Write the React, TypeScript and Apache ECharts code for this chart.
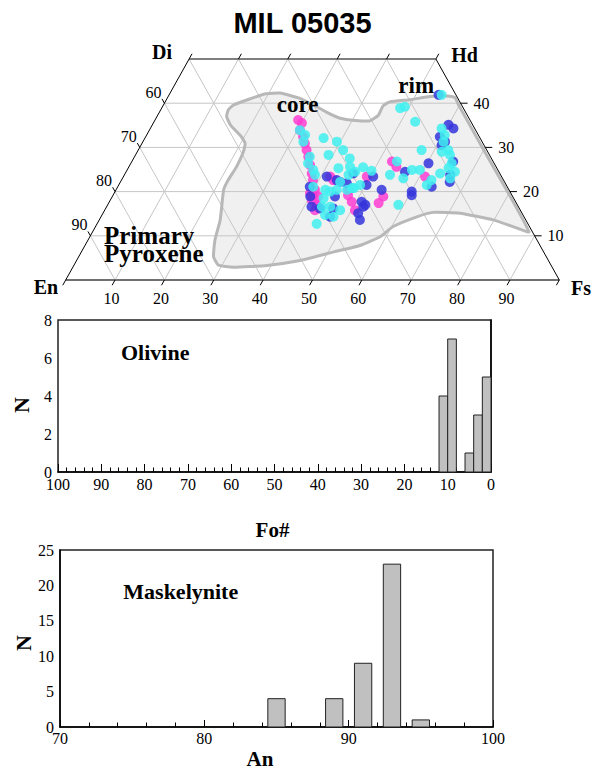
import React, { useEffect, useRef } from "react";
import * as echarts from "echarts";

// ---------- Pyroxene quadrilateral data: [Fs, Wo] (mol%) ----------
const magentaPts: number[][] = [
  [29.0, 36.2], [30.1, 35.5], [30.5, 33.9], [31.9, 32.4], [33.0, 30.9], [34.1, 29.4],
  [35.2, 27.9], [36.5, 26.0], [37.8, 24.1], [38.8, 22.6], [40.3, 20.4], [40.8, 18.1],
  [42.4, 17.0], [42.6, 15.8], [41.9, 23.4], [42.9, 22.6], [47.1, 20.4], [49.1, 17.7],
  [50.7, 15.8], [49.3, 23.4], [54.7, 17.4], [54.9, 18.9], [52.7, 26.8], [54.2, 25.6],
  [61.1, 23.4], [40.5, 19.2], [47.6, 19.2], [39.7, 19.6], [41.7, 18.9], [42.6, 16.6],
];
const bluePts: number[][] = [
  [41.2, 23.4], [43.6, 22.6], [46.2, 24.1], [46.0, 21.9], [50.2, 21.5], [50.6, 23.4],
  [51.1, 17.7], [52.0, 16.6], [51.7, 15.1], [52.8, 13.6], [53.8, 20.4], [40.1, 18.9],
  [41.5, 16.6], [43.4, 16.2], [45.1, 18.9], [46.1, 16.2], [38.9, 21.1], [46.4, 14.3],
  [54.6, 41.9], [60.0, 35.1], [61.4, 34.3], [59.6, 32.4], [60.9, 30.5], [65.1, 26.8],
  [66.0, 23.8], [66.7, 22.2], [60.3, 26.4], [56.5, 24.5], [60.1, 20.0], [60.5, 19.2],
  [63.6, 21.1], [61.2, 31.3], [44.5, 22.2], [52.2, 17.0],
];
const cyanPts: number[][] = [
  [30.5, 33.9], [32.1, 32.8], [32.5, 31.3], [36.2, 32.1], [39.3, 31.3], [41.5, 29.4],
  [39.1, 28.3], [43.8, 27.5], [44.8, 25.6], [42.6, 25.3], [47.5, 25.5], [49.6, 24.7],
  [45.4, 23.8], [44.5, 22.2], [48.0, 20.8], [46.8, 20.4], [44.7, 20.4], [42.4, 20.4],
  [39.6, 21.1], [35.5, 27.9], [35.9, 26.4], [37.7, 24.9], [38.6, 23.8], [43.0, 18.5],
  [43.6, 16.6], [45.3, 16.6], [47.7, 15.8], [45.2, 14.7], [47.1, 14.3], [44.5, 12.7],
  [53.8, 23.8], [58.9, 17.0], [48.3, 38.9], [49.1, 39.2], [52.9, 35.8], [55.2, 41.9],
  [59.0, 34.3], [60.4, 32.8], [60.9, 31.3], [61.7, 29.0], [62.8, 29.4], [63.7, 28.3],
  [65.0, 26.4], [64.9, 25.3], [66.6, 24.5], [66.4, 23.0], [62.8, 22.6], [62.4, 21.5],
  [63.8, 24.1], [57.4, 29.4], [59.3, 24.9], [57.7, 24.9], [56.9, 23.0], [53.7, 26.8],
  [46.4, 24.5], [48.9, 21.5], [43.6, 20.0], [47.6, 20.8],
];
// outline of the shaded pyroxene field, [Fs, Wo]
const fieldOutline: number[][] = [
  [13.7, 38.5], [14.2, 39.6], [16.9, 41.0], [19.3, 42.1], [22.3, 42.3], [26.9, 41.1],
  [30.4, 39.6], [33.8, 38.0], [37.3, 36.6], [40.6, 36.1], [43.6, 36.0], [44.7, 37.3],
  [44.6, 39.4], [45.5, 40.3], [49.3, 40.8], [53.1, 41.5], [56.0, 41.7], [58.2, 41.3],
  [59.8, 39.6], [69.6, 29.8], [79.5, 20.0], [88.4, 10.9], [86.0, 11.6], [79.8, 13.6],
  [72.3, 15.1], [66.8, 15.3], [64.0, 14.3], [60.3, 12.1], [58.8, 9.8], [55.7, 7.8],
  [51.0, 6.3], [45.3, 4.4], [39.1, 3.3], [32.5, 2.9], [29.2, 3.4], [27.3, 5.3],
  [25.7, 9.1], [24.5, 13.6], [21.8, 20.4], [21.6, 22.6], [21.8, 25.6], [21.5, 29.0],
  [20.9, 30.9], [19.4, 32.4], [15.8, 35.1], [14.1, 37.0],
];
const fsTicks = [10, 20, 30, 40, 50, 60, 70, 80, 90];
const bottomTicks = [0, 10, 20, 30, 40, 50, 60, 70, 80, 90, 100];
const topTicks = [0, 10, 20, 30, 40, 50];
const woTicks = [10, 20, 30, 40];

// ---------- Olivine histogram ----------
const olivineBinStart = [10, 8, 4, 2, 0];
const olivineCounts = [4, 7, 1, 3, 5];
const olivineBinWidth = 2;

// ---------- Maskelynite histogram ----------
const maskCenters = [85, 89, 91, 93, 95];
const maskCounts = [4, 4, 9, 23, 1];
const maskBarWidth = 1.2;

const SERIF = "'Liberation Serif', 'Times New Roman', serif";
const SANS = "'Liberation Sans', Arial, sans-serif";

const toXY = (fs: number, wo: number) => [fs + wo / 2, wo];

function buildOption(): any {
  const gridSegs: number[][] = [
    ...woTicks.map((w) => [0, w, 100 - w, w]),
    ...fsTicks.map((f) => [f, 0, f, Math.min(50, 100 - f)]),
    ...fsTicks.map((e) => {
      const we = Math.min(50, 100 - e);
      return [100 - e, 0, 100 - e - we, we];
    }),
  ];
  const edges: number[][] = [
    [0, 0, 100, 0],
    [0, 50, 50, 50],
    [0, 0, 0, 50],
    [100, 0, 50, 50],
  ];
  const edgeStyles = [
    { stroke: "#707070", lineWidth: 2 },
    { stroke: "#555", lineWidth: 1.5 },
    { stroke: "#000", lineWidth: 1 },
    { stroke: "#000", lineWidth: 1 },
  ];

  const segSeries = (segs: number[][], styleFn: (i: number) => any, z: number) => ({
    type: "custom",
    coordinateSystem: "cartesian2d",
    xAxisIndex: 0,
    yAxisIndex: 0,
    silent: true,
    z,
    data: segs,
    renderItem: (params: any, api: any) => {
      const s = segs[params.dataIndex];
      const a = api.coord(toXY(s[0], s[1]));
      const b = api.coord(toXY(s[2], s[3]));
      return {
        type: "line",
        shape: { x1: a[0], y1: a[1], x2: b[0], y2: b[1] },
        style: styleFn(params.dataIndex),
      };
    },
  });

  const unitDir = (api: any, p0: number[], p1: number[]) => {
    const a = api.coord(toXY(p0[0], p0[1]));
    const b = api.coord(toXY(p1[0], p1[1]));
    const dx = b[0] - a[0];
    const dy = b[1] - a[1];
    const L = Math.hypot(dx, dy) || 1;
    return [dx / L, dy / L];
  };

  const labelStyle = (text: string, align: string) => ({
    text,
    textAlign: align,
    textVerticalAlign: "middle",
    verticalAlign: "middle",
    fontSize: 16,
    fontFamily: SERIF,
    fill: "#000",
  });

  const tickSeries = (
    vals: number[],
    point: (v: number) => number[],
    dir: (api: any, v: number) => number[],
    len: number,
    label: ((v: number) => string) | null,
    labelPos: (p: number[]) => number[],
    align: string
  ) => ({
    type: "custom",
    coordinateSystem: "cartesian2d",
    xAxisIndex: 0,
    yAxisIndex: 0,
    silent: true,
    z: 4,
    data: vals.map((v) => toXY(point(v)[0], point(v)[1])),
    renderItem: (params: any, api: any) => {
      const v = vals[params.dataIndex];
      const pt = point(v);
      const p = api.coord(toXY(pt[0], pt[1]));
      const d = dir(api, v);
      const children: any[] = [
        {
          type: "line",
          shape: { x1: p[0], y1: p[1], x2: p[0] + d[0] * len, y2: p[1] + d[1] * len },
          style: { stroke: "#000", lineWidth: 1 },
        },
      ];
      if (label) {
        const txt = label(v);
        if (txt) {
          const lp = labelPos(p);
          children.push({ type: "text", x: lp[0], y: lp[1], style: labelStyle(txt, align) });
        }
      }
      return { type: "group", children };
    },
  });

  const polySeries = (fill: string, stroke: string, lw: number, z: number) => ({
    type: "custom",
    coordinateSystem: "cartesian2d",
    xAxisIndex: 0,
    yAxisIndex: 0,
    silent: true,
    z,
    data: [toXY(fieldOutline[0][0], fieldOutline[0][1])],
    renderItem: (_p: any, api: any) => ({
      type: "polygon",
      shape: {
        points: fieldOutline.map(([fs, wo]) => api.coord(toXY(fs, wo))),
        smooth: 0.15,
      },
      style: { fill, stroke, lineWidth: lw },
    }),
  });

  const scatter = (pts: number[][], color: string, z: number) => ({
    type: "scatter",
    xAxisIndex: 0,
    yAxisIndex: 0,
    symbol: "circle",
    symbolSize: 10,
    z,
    data: pts.map(([fs, wo]) => toXY(fs, wo)),
    itemStyle: { color, opacity: 0.85 },
    silent: true,
  });

  const histBars = (idx: number, starts: number[], width: number, counts: number[]) => ({
    type: "custom",
    coordinateSystem: "cartesian2d",
    xAxisIndex: idx,
    yAxisIndex: idx,
    silent: true,
    z: 3,
    data: starts.map((s, i) => [s, counts[i]]),
    renderItem: (params: any, api: any) => {
      const s = starts[params.dataIndex];
      const c = counts[params.dataIndex];
      const a = api.coord([s, c]);
      const b = api.coord([s + width, 0]);
      return {
        type: "rect",
        shape: {
          x: Math.min(a[0], b[0]),
          y: Math.min(a[1], b[1]),
          width: Math.abs(b[0] - a[0]),
          height: Math.abs(b[1] - a[1]),
        },
        style: { fill: "#c0c0c0", stroke: "#222", lineWidth: 1 },
      };
    },
  });

  const axisLabel = (margin: number) => ({
    color: "#000",
    fontSize: 16,
    fontFamily: SERIF,
    margin,
  });

  const fsDir = (api: any, f: number) => unitDir(api, [f, 0], [f, 10]);
  // direction of a constant-En line, going up toward the left edge
  const enDir = (api: any) => unitDir(api, [10, 0], [0, 10]);

  const boldText = (
    text: string,
    x: number,
    y: number,
    size: number,
    align = "center",
    rot = 0,
    lineHeight?: number
  ) => ({
    type: "text",
    x,
    y,
    z: 100,
    rotation: rot,
    silent: true,
    style: {
      text,
      textAlign: align,
      textVerticalAlign: "middle",
      verticalAlign: "middle",
      fontSize: size,
      fontWeight: "bold",
      fontFamily: SERIF,
      fill: "#000",
      ...(lineHeight ? { lineHeight } : {}),
    },
  });

  return {
    animation: false,
    backgroundColor: "#fff",
    grid: [
      { left: 65.7, top: 59, width: 493.6, height: 221, show: false },
      {
        left: 58, top: 320, width: 433, height: 152, show: true,
        borderColor: "#222", borderWidth: 1.5, backgroundColor: "transparent",
      },
      {
        left: 60, top: 550, width: 433, height: 177, show: true,
        borderColor: "#222", borderWidth: 1.5, backgroundColor: "transparent",
      },
    ],
    xAxis: [
      { gridIndex: 0, type: "value", min: 0, max: 100, show: false },
      {
        gridIndex: 1, type: "value", min: 0, max: 100, interval: 10, inverse: true,
        axisLine: { lineStyle: { color: "#000", width: 1.5 } },
        axisTick: { inside: true, length: 8, lineStyle: { color: "#000" } },
        minorTick: { show: true, splitNumber: 5, length: 4.5, lineStyle: { color: "#000" } },
        splitLine: { show: false },
        axisLabel: axisLabel(4),
      },
      {
        gridIndex: 2, type: "value", min: 70, max: 100, interval: 10,
        axisLine: { lineStyle: { color: "#000", width: 1.5 } },
        axisTick: { inside: true, length: 7, lineStyle: { color: "#000" } },
        minorTick: { show: true, splitNumber: 5, length: 4.5, lineStyle: { color: "#000" } },
        splitLine: { show: false },
        axisLabel: axisLabel(3),
      },
    ],
    yAxis: [
      { gridIndex: 0, type: "value", min: 0, max: 50, show: false },
      {
        gridIndex: 1, type: "value", min: 0, max: 8, interval: 2,
        axisLine: { show: true, lineStyle: { color: "#000", width: 1.5 } },
        axisTick: { show: false },
        splitLine: { show: false },
        axisLabel: axisLabel(6),
      },
      {
        gridIndex: 2, type: "value", min: 0, max: 25, interval: 5,
        axisLine: { show: true, lineStyle: { color: "#000", width: 1.5 } },
        axisTick: { show: false },
        splitLine: { show: false },
        axisLabel: axisLabel(6),
      },
    ],
    series: [
      polySeries("#eff0ef", "none", 0, 1),
      segSeries(gridSegs, () => ({ stroke: "#c6c6c6", lineWidth: 1 }), 2),
      polySeries("none", "#b8b8b8", 3, 3),
      segSeries(edges, (i) => edgeStyles[i], 4),
      // bottom (Fs) ticks + labels
      tickSeries(
        bottomTicks,
        (f) => [f, 0],
        (api, f) => {
          const d = fsDir(api, f);
          return [-d[0], -d[1]];
        },
        6,
        (f) => (fsTicks.indexOf(f) >= 0 ? String(f) : ""),
        (p) => [p[0] - 3.5, p[1] + 18],
        "center"
      ),
      // top ticks
      tickSeries(topTicks, (f) => [f, 50], fsDir, 6, null, (p) => p, "center"),
      // left (En) ticks + labels
      tickSeries(
        woTicks,
        (w) => [0, w],
        (api) => enDir(api),
        5,
        (w) => String(100 - w),
        (p) => [p[0] - 11, p[1] - 11],
        "center"
      ),
      // right (Wo) ticks + labels
      tickSeries(
        woTicks,
        (w) => [100 - w, w],
        () => [1, 0],
        7,
        (w) => String(w),
        (p) => [p[0] + 13, p[1]],
        "left"
      ),
      scatter(magentaPts, "#ff3dd2", 5),
      scatter(bluePts, "#3535dc", 6),
      scatter(cyanPts, "#3ff0f0", 7),
      histBars(1, olivineBinStart, olivineBinWidth, olivineCounts),
      histBars(2, maskCenters.map((c) => c - maskBarWidth / 2), maskBarWidth, maskCounts),
    ],
    graphic: [
      {
        type: "text",
        x: 302.5,
        y: 23,
        z: 100,
        silent: true,
        style: {
          text: "MIL 05035",
          textAlign: "center",
          textVerticalAlign: "middle",
          verticalAlign: "middle",
          fontSize: 29,
          fontWeight: "bold",
          fontFamily: SANS,
          fill: "#000",
        },
      },
      boldText("Di", 162, 52, 20),
      boldText("Hd", 464.5, 55, 20),
      boldText("En", 46, 287, 20),
      boldText("Fs", 581, 288, 20),
      boldText("core", 276.7, 104.5, 23, "left"),
      boldText("rim", 398.3, 85, 23, "left"),
      boldText("Primary\nPyroxene", 104, 244.5, 25, "left", 0, 18.5),
      boldText("Olivine", 121, 352.6, 22, "left"),
      boldText("Maskelynite", 123.3, 591.5, 22, "left"),
      boldText("N", 21, 405, 22, "center", Math.PI / 2),
      boldText("N", 23, 643, 22, "center", Math.PI / 2),
      boldText("Fo#", 272.5, 530, 21),
      boldText("An", 260, 759, 21),
    ],
  };
}

export default function App() {
  const ref = useRef<HTMLDivElement>(null);
  useEffect(() => {
    if (!ref.current) return;
    const chart = echarts.init(ref.current, undefined, { renderer: "svg" });
    chart.setOption(buildOption());
    return () => chart.dispose();
  }, []);
  return (
    <div
      ref={ref}
      style={{ position: "fixed", left: 0, top: 0, width: 595, height: 771, background: "#fff" }}
    />
  );
}
